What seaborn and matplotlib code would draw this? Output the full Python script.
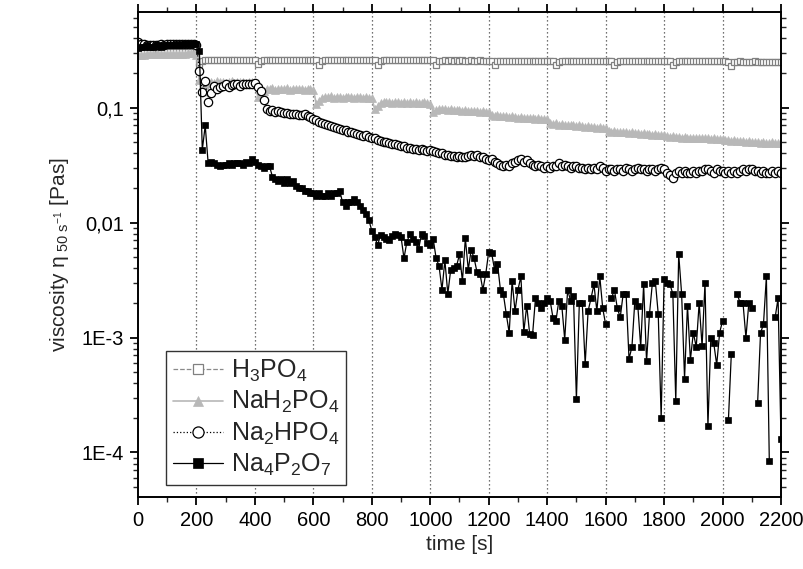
import numpy as np
import pandas as pd
import matplotlib
matplotlib.use("Agg")
import matplotlib.pyplot as plt
from matplotlib.lines import Line2D
from matplotlib.ticker import FixedLocator, FixedFormatter, LogLocator, MultipleLocator, NullFormatter
import seaborn as sns

nan = float("nan")

# ---------------- data ----------------
time_s = list(range(0, 2201, 10))

h3po4 = [0.295,0.298,0.300,0.300,0.301,0.301,0.302,0.302,0.302,0.303,0.303,0.303,0.304,0.304,0.304,0.305,0.305,0.305,0.306,0.306,0.300,
         0.240,0.255,0.262,0.260,0.262,0.261,0.262,0.262,0.261,0.262,0.262,0.261,0.262,0.262,0.261,0.262,0.262,0.261,0.262,0.262,
         0.238,0.255,0.261,0.260,0.261,0.261,0.260,0.261,0.261,0.260,0.261,0.261,0.260,0.261,0.261,0.260,0.261,0.261,0.260,0.261,
         0.260,0.237,0.255,0.259,0.260,0.259,0.260,0.260,0.259,0.260,0.260,0.259,0.260,0.260,0.259,0.260,0.259,0.260,0.259,0.260,
         0.259,0.236,0.254,0.258,0.259,0.258,0.259,0.259,0.258,0.259,0.258,0.259,0.258,0.259,0.258,0.259,0.258,0.259,0.258,0.258,
         0.258,0.236,0.253,0.257,0.258,0.257,0.258,0.257,0.258,0.257,0.258,0.257,0.257,0.258,0.257,0.257,0.258,0.257,0.257,0.257,
         0.257,0.235,0.253,0.256,0.257,0.256,0.257,0.256,0.256,0.257,0.256,0.256,0.257,0.256,0.256,0.256,0.257,0.256,0.256,0.256,
         0.256,0.255,0.235,0.252,0.255,0.256,0.255,0.256,0.255,0.255,0.256,0.255,0.255,0.255,0.256,0.255,0.255,0.255,0.255,0.255,
         0.255,0.254,0.234,0.251,0.254,0.255,0.254,0.254,0.255,0.254,0.254,0.254,0.255,0.254,0.254,0.254,0.254,0.254,0.254,0.254,
         0.254,0.253,0.233,0.250,0.253,0.254,0.253,0.253,0.253,0.254,0.253,0.253,0.253,0.253,0.253,0.253,0.253,0.253,0.253,0.253,
         0.253,0.252,0.232,0.249,0.252,0.253,0.252,0.252,0.252,0.252,0.253,0.252,0.252,0.252,0.252,0.252,0.252,0.252,0.252,0.252]

nah2po4 = [0.285,0.288,0.290,0.291,0.292,0.292,0.293,0.293,0.294,0.294,0.294,0.295,0.295,0.295,0.296,0.296,0.296,0.297,0.297,0.297,0.290,
           0.175,0.150,0.158,0.163,0.168,0.165,0.170,0.166,0.168,0.164,0.167,0.170,0.165,0.168,0.166,0.168,0.165,0.167,0.166,0.160,
           0.125,0.132,0.140,0.146,0.144,0.147,0.143,0.146,0.145,0.144,0.147,0.143,0.145,0.146,0.144,0.145,0.143,0.146,0.144,0.143,
           0.108,0.115,0.122,0.125,0.123,0.126,0.122,0.125,0.124,0.122,0.125,0.123,0.124,0.122,0.125,0.123,0.122,0.124,0.122,0.121,
           0.097,0.103,0.110,0.113,0.111,0.112,0.110,0.113,0.111,0.110,0.112,0.110,0.111,0.109,0.111,0.110,0.109,0.111,0.109,0.108,
           0.092,0.095,0.097,0.098,0.097,0.096,0.097,0.096,0.095,0.096,0.094,0.095,0.094,0.093,0.094,0.093,0.092,0.093,0.092,0.091,
           0.086,0.085,0.087,0.085,0.084,0.085,0.083,0.084,0.083,0.082,0.083,0.082,0.081,0.082,0.081,0.080,0.081,0.080,0.079,0.079,
           0.074,0.072,0.073,0.071,0.072,0.071,0.070,0.071,0.070,0.069,0.070,0.069,0.068,0.069,0.068,0.068,0.067,0.068,0.067,0.066,
           0.063,0.062,0.063,0.062,0.061,0.062,0.061,0.060,0.061,0.060,0.060,0.059,0.060,0.059,0.059,0.058,0.059,0.058,0.058,0.058,
           0.057,0.056,0.057,0.056,0.056,0.055,0.056,0.055,0.055,0.055,0.054,0.055,0.054,0.054,0.054,0.053,0.054,0.053,0.053,0.053,
           0.052,0.052,0.051,0.052,0.051,0.051,0.051,0.050,0.051,0.050,0.050,0.050,0.049,0.050,0.049,0.049,0.050,0.049,0.049,0.049]

na2hpo4 = [0.37,0.36,0.355,0.35,0.352,0.35,0.353,0.352,0.355,0.354,0.356,0.355,0.357,0.356,0.358,0.357,0.358,0.36,0.359,0.36,0.35,
           0.21,0.136,0.17,0.113,0.134,0.153,0.145,0.15,0.155,0.16,0.152,0.158,0.162,0.16,0.155,0.16,0.16,0.162,0.16,0.163,
           0.15,0.139,0.117,0.097,0.094,0.095,0.092,0.093,0.091,0.09,0.09,0.089,0.089,0.088,0.087,0.086,0.088,0.085,0.083,0.08,
           0.078,0.075,0.074,0.072,0.07,0.069,0.068,0.067,0.065,0.064,0.064,0.062,0.062,0.06,0.059,0.058,0.057,0.058,0.056,0.055,
           0.054,0.052,0.051,0.05,0.05,0.049,0.048,0.048,0.047,0.046,0.046,0.045,0.045,0.044,0.044,0.043,0.044,0.043,0.042,0.043,
           0.042,0.041,0.04,0.04,0.039,0.039,0.038,0.038,0.037,0.038,0.0376,0.037,0.038,0.039,0.038,0.039,0.037,0.037,0.036,0.035,
           0.036,0.034,0.033,0.032,0.031,0.032,0.031,0.033,0.034,0.035,0.036,0.034,0.035,0.033,0.032,0.031,0.032,0.031,0.030,0.031,
           0.030,0.031,0.031,0.033,0.031,0.032,0.031,0.030,0.031,0.031,0.030,0.030,0.029,0.030,0.029,0.030,0.029,0.031,0.030,0.028,
           0.029,0.029,0.028,0.029,0.029,0.028,0.030,0.029,0.028,0.029,0.030,0.029,0.029,0.028,0.029,0.029,0.028,0.029,0.030,0.029,
           0.027,0.026,0.0245,0.027,0.028,0.027,0.028,0.027,0.027,0.028,0.027,0.028,0.028,0.029,0.029,0.028,0.027,0.029,0.028,0.028,
           0.027,0.028,0.027,0.028,0.027,0.028,0.029,0.028,0.029,0.029,0.028,0.028,0.027,0.028,0.027,0.027,0.028,0.027,0.028,0.027]

na4p2o7 = [0.33,0.34,0.34,0.35,0.34,0.34,0.35,0.35,0.34,0.35,0.35,0.35,0.35,0.36,0.35,0.36,0.36,0.36,0.36,0.36,0.36,
           0.31,0.043,0.07,0.033,0.034,0.033,0.032,0.031,0.032,0.032,0.033,0.032,0.033,0.033,0.033,0.032,0.034,0.033,0.036,0.034,
           0.032,0.031,0.030,0.031,0.031,0.025,0.024,0.023,0.024,0.022,0.024,0.022,0.023,0.021,0.020,0.020,0.019,0.019,0.018,0.018,
           0.017,0.018,0.017,0.017,0.018,0.017,0.018,0.018,0.019,0.015,0.014,0.015,0.015,0.016,0.015,0.014,0.013,0.012,0.0105,0.0085,
           0.0075,0.0064,0.0078,0.0075,0.0072,0.007,0.0076,0.0079,0.0078,0.0075,0.0049,0.0068,0.0079,0.0072,0.0068,0.0059,0.0079,0.0077,0.0066,0.0064,
           0.0072,0.0049,0.0042,0.0026,0.0047,0.0024,0.0039,0.004,0.0042,0.0053,0.0031,0.0073,0.0039,0.0058,0.0049,0.0037,0.0036,0.0026,0.0036,0.0056,
           0.0054,0.0039,0.0044,0.0026,0.0024,0.0016,0.0011,0.0031,0.0017,0.0026,0.0034,0.00112,0.0019,0.00108,0.00106,0.0022,0.002,0.0018,0.002,0.0022,
           0.0021,0.00148,0.0014,0.0021,0.0019,0.00096,0.0026,0.0021,0.0023,0.00029,0.002,0.002,0.00059,0.0017,0.0022,0.0029,0.0017,0.0034,0.0018,0.0013,
           nan,0.0022,0.0026,0.0018,0.0015,0.0024,0.0024,0.00065,0.00083,0.0021,0.0019,0.00083,0.0029,0.00062,0.0016,0.003,0.0031,0.0016,0.0002,0.0032,
           0.003,0.0029,0.0024,0.00028,0.0053,0.0024,0.00044,0.0019,0.00064,0.0011,0.00083,0.002,0.00084,0.003,0.00017,0.001,0.00089,0.00058,0.0011,0.0014,
           nan,0.00019,0.00072,nan,0.0024,0.002,0.002,0.001,0.002,0.0018,nan,0.00027,0.0011,0.0013,0.0034,8.4e-5,nan,0.0015,0.0022,0.00013]

series_names = ["H$_3$PO$_4$", "NaH$_2$PO$_4$", "Na$_2$HPO$_4$", "Na$_4$P$_2$O$_7$"]
x_ticks = [0, 200, 400, 600, 800, 1000, 1200, 1400, 1600, 1800, 2000, 2200]
y_ticks = [1e-4, 1e-3, 1e-2, 1e-1]
y_tick_labels = ["1E-4", "1E-3", "0,01", "0,1"]

for s in (h3po4, nah2po4, na2hpo4, na4p2o7):
    assert len(s) == len(time_s), len(s)

# ---------------- style ----------------
sns.set_theme(style="ticks")
plt.rcParams["font.family"] = ["Liberation Sans", "DejaVu Sans"]
plt.rcParams["mathtext.fontset"] = "custom"
plt.rcParams["mathtext.rm"] = "Liberation Sans"
plt.rcParams["mathtext.it"] = "Liberation Sans:italic"
plt.rcParams["mathtext.bf"] = "Liberation Sans:bold"
plt.rcParams["mathtext.default"] = "regular"

fig = plt.figure(figsize=(8.04, 5.69), dpi=100)
ax = fig.add_axes([138 / 804, 1 - 497 / 569, 643 / 804, 485 / 569])

styles = [
    dict(color="#8a8a8a", linestyle="--", lw=0.9, marker="s", ms=4.5, mfc="white", mec="#808080", mew=0.9),
    dict(color="#b8b8b8", linestyle="-", lw=1.2, marker="^", ms=5.5, mfc="#b8b8b8", mec="#b8b8b8", mew=0.5),
    dict(color="black", linestyle=":", lw=0.9, marker="o", ms=6, mfc="white", mec="black", mew=0.9),
    dict(color="black", linestyle="-", lw=0.9, marker="s", ms=5, mfc="black", mec="black", mew=0.5),
]

for vals, st in zip((h3po4, nah2po4, na2hpo4, na4p2o7), styles):
    df = pd.DataFrame({"t": time_s, "v": vals})
    # split into segments at missing values so that gaps stay gaps
    df["seg"] = df["v"].isna().cumsum()
    df = df.dropna()
    sns.lineplot(data=df, x="t", y="v", units="seg", estimator=None, sort=False,
                 ax=ax, legend=False, color=st["color"], linestyle=st["linestyle"],
                 linewidth=st["lw"], marker=st["marker"], markersize=st["ms"],
                 markerfacecolor=st["mfc"], markeredgecolor=st["mec"],
                 markeredgewidth=st["mew"])

ax.set_yscale("log")
ax.set_xlim(0, 2200)
ax.set_ylim(4.1e-5, 0.68)

ax.xaxis.set_major_locator(FixedLocator(x_ticks))
ax.xaxis.set_minor_locator(MultipleLocator(100))
ax.yaxis.set_major_locator(FixedLocator(y_ticks))
ax.yaxis.set_major_formatter(FixedFormatter(y_tick_labels))
ax.yaxis.set_minor_locator(LogLocator(base=10, subs=np.arange(2, 10)))
ax.yaxis.set_minor_formatter(NullFormatter())

ax.grid(False)
for xv in x_ticks[1:-1]:
    ax.axvline(xv, color="#444444", linestyle=(0, (1, 2.2)), lw=0.9, zorder=0)

for sp in ax.spines.values():
    sp.set_visible(True)
    sp.set_color("black")
    sp.set_linewidth(1.4)

ax.tick_params(which="major", direction="out", length=6, width=1.3, labelsize=14.5,
               top=True, right=True, colors="black", pad=4)
ax.tick_params(which="minor", direction="out", length=3.5, width=1.0,
               top=True, right=True)
ax.tick_params(axis="both", labelcolor="black")

ax.set_xlabel("time [s]", fontsize=15, labelpad=4)
ax.set_ylabel(r"viscosity $\eta_{\ 50\ s^{-1}}$ [Pas]", fontsize=15, labelpad=8)

handles = []
for st in styles:
    handles.append(Line2D([0], [0], color=st["color"], linestyle=st["linestyle"], lw=st["lw"],
                          marker=st["marker"], markersize=st["ms"] + 2,
                          markerfacecolor=st["mfc"], markeredgecolor=st["mec"],
                          markeredgewidth=st["mew"]))
leg = ax.legend(handles, series_names, loc="lower left", bbox_to_anchor=(0.043, 0.024),
                fontsize=18, frameon=True, fancybox=False, framealpha=1,
                edgecolor="#333333", handlelength=2.0, handletextpad=0.3,
                labelspacing=0.2, borderpad=0.3, borderaxespad=0)
leg.get_frame().set_linewidth(1.0)

fig.savefig("out.png", dpi=100)
